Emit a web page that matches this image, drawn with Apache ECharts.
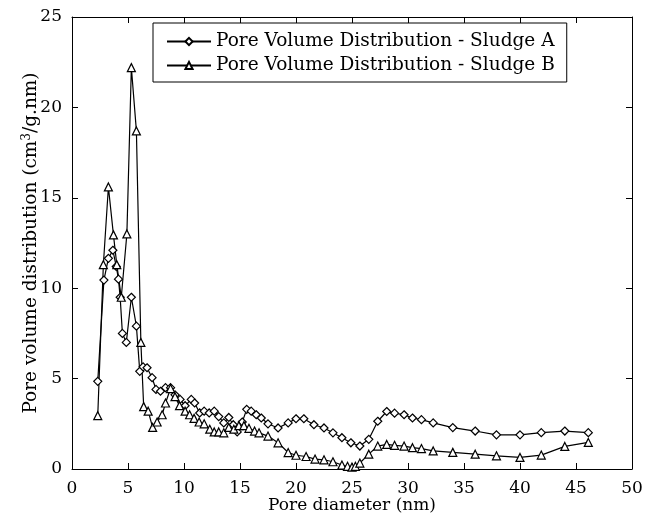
<!DOCTYPE html>
<html>
<head>
<meta charset="utf-8">
<script src="https://cdn.jsdelivr.net/npm/echarts@6/dist/echarts.min.js"></script>
<style>html,body{margin:0;padding:0;background:#fff}#c{width:662px;height:526px}</style>
</head>
<body>
<div id="c"></div>
<script>
// Sludge A
var aX = [2.3, 2.85, 3.25, 3.65, 3.95, 4.15, 4.3, 4.5, 4.85, 5.3, 5.75, 6.05, 6.35, 6.7, 7.15, 7.5, 7.9, 8.35, 8.8, 9.2, 9.65, 10.1, 10.65, 10.95, 11.4, 11.8, 12.25, 12.7, 13.1, 13.55, 14.0, 14.4, 14.75, 15.2, 15.6, 16.0, 16.45, 16.9, 17.5, 18.4, 19.3, 20.0, 20.7, 21.6, 22.5, 23.3, 24.1, 24.9, 25.7, 26.5, 27.3, 28.1, 28.8, 29.65, 30.4, 31.2, 32.25, 34.0, 36.0, 37.9, 40.0, 41.9, 44.0, 46.1];
var aY = [4.85, 10.45, 11.65, 12.1, 11.2, 10.5, 9.5, 7.5, 7.0, 9.5, 7.9, 5.4, 5.65, 5.6, 5.05, 4.4, 4.3, 4.5, 4.5, 4.1, 3.85, 3.5, 3.85, 3.65, 3.1, 3.2, 3.1, 3.2, 2.9, 2.55, 2.85, 2.45, 2.05, 2.6, 3.3, 3.2, 3.0, 2.82, 2.5, 2.27, 2.55, 2.78, 2.78, 2.45, 2.27, 2.0, 1.73, 1.45, 1.27, 1.64, 2.64, 3.18, 3.09, 3.0, 2.82, 2.73, 2.55, 2.29, 2.1, 1.89, 1.89, 2.01, 2.1, 2.01];
// Sludge B
var bX = [2.3, 2.8, 3.25, 3.7, 4.0, 4.4, 4.9, 5.3, 5.75, 6.15, 6.4, 6.8, 7.2, 7.6, 8.05, 8.35, 8.8, 9.2, 9.6, 10.1, 10.5, 10.9, 11.35, 11.8, 12.3, 12.7, 13.1, 13.55, 14.0, 14.45, 14.9, 15.35, 15.8, 16.3, 16.7, 17.5, 18.4, 19.3, 20.0, 20.9, 21.7, 22.5, 23.3, 24.1, 24.6, 25.0, 25.3, 25.7, 26.5, 27.3, 28.1, 28.8, 29.65, 30.4, 31.2, 32.25, 34.0, 36.0, 37.9, 40.0, 41.9, 44.0, 46.1];
var bY = [2.95, 11.3, 15.6, 12.95, 11.3, 9.5, 13.0, 22.2, 18.7, 7.0, 3.45, 3.2, 2.3, 2.6, 3.0, 3.65, 4.45, 4.0, 3.5, 3.2, 3.0, 2.8, 2.6, 2.5, 2.2, 2.05, 2.05, 2.0, 2.3, 2.2, 2.4, 2.4, 2.25, 2.1, 2.0, 1.82, 1.45, 0.91, 0.76, 0.69, 0.55, 0.51, 0.4, 0.22, 0.15, 0.1, 0.15, 0.33, 0.82, 1.27, 1.36, 1.31, 1.27, 1.18, 1.13, 1.0, 0.92, 0.82, 0.73, 0.64, 0.77, 1.25, 1.47];
var seriesNames = ['Pore Volume Distribution - Sludge A', 'Pore Volume Distribution - Sludge B'];
var xTitle = 'Pore diameter (nm)';

function pairs(xs, ys) { return xs.map(function (x, i) { return [x, ys[i]]; }); }

var FONT = '"DejaVu Serif", serif';
var chart = echarts.init(document.getElementById('c'), null, { renderer: 'canvas' });

var axisCommon = {
  axisLine: { show: true, onZero: false, lineStyle: { color: '#000', width: 1 } },
  axisTick: { show: true, inside: true, length: 6, lineStyle: { color: '#000' } },
  splitLine: { show: false }
};

chart.setOption({
  backgroundColor: '#fff',
  animation: false,
  grid: { left: 72, right: 30, top: 17, bottom: 57 },
  legend: {
    orient: 'vertical',
    left: 153, top: 23,
    padding: [9, 12, 7, 13],
    itemGap: 5,
    itemWidth: 44, itemHeight: 9,
    borderColor: '#000', borderWidth: 1,
    backgroundColor: '#fff',
    textStyle: { fontFamily: FONT, fontSize: 18.5, color: '#000' },
    data: seriesNames
  },
  xAxis: [
    Object.assign({
      type: 'value', min: 0, max: 50, interval: 5, position: 'bottom',
      name: xTitle, nameLocation: 'middle', nameGap: 28, nameMoveOverlap: false,
      nameTextStyle: { fontFamily: FONT, fontSize: 17, color: '#000' },
      axisLabel: { fontFamily: FONT, fontSize: 17, color: '#000', margin: 11 }
    }, axisCommon),
    Object.assign({
      type: 'value', min: 0, max: 50, interval: 5, position: 'top',
      axisLabel: { show: false }
    }, axisCommon)
  ],
  yAxis: [
    Object.assign({
      type: 'value', min: 0, max: 25, interval: 5, position: 'left',
      name: 'Pore volume distribution (cm{sup|3}/g.nm)',
      nameLocation: 'middle', nameGap: 30, nameMoveOverlap: false,
      nameTextStyle: {
        fontFamily: FONT, fontSize: 18.5, color: '#000',
        rich: { sup: { fontFamily: FONT, fontSize: 12, color: '#000', verticalAlign: 'top', padding: [0, 0, 9, 0] } }
      },
      axisLabel: { fontFamily: FONT, fontSize: 17, color: '#000', margin: 10 }
    }, axisCommon),
    Object.assign({
      type: 'value', min: 0, max: 25, interval: 5, position: 'right',
      axisLabel: { show: false }
    }, axisCommon)
  ],
  series: [
    {
      name: seriesNames[0], type: 'line', xAxisIndex: 0, yAxisIndex: 0,
      data: pairs(aX, aY),
      symbol: 'diamond', symbolSize: 8, showAllSymbol: true,
      lineStyle: { color: '#000', width: 1.2 },
      itemStyle: { color: '#fff', borderColor: '#000', borderWidth: 1.2 }
    },
    {
      name: seriesNames[1], type: 'line', xAxisIndex: 0, yAxisIndex: 0,
      data: pairs(bX, bY),
      symbol: 'triangle', symbolSize: 8, showAllSymbol: true,
      lineStyle: { color: '#000', width: 1.2 },
      itemStyle: { color: '#fff', borderColor: '#000', borderWidth: 1.2 }
    }
  ]
});
</script>
</body>
</html>
